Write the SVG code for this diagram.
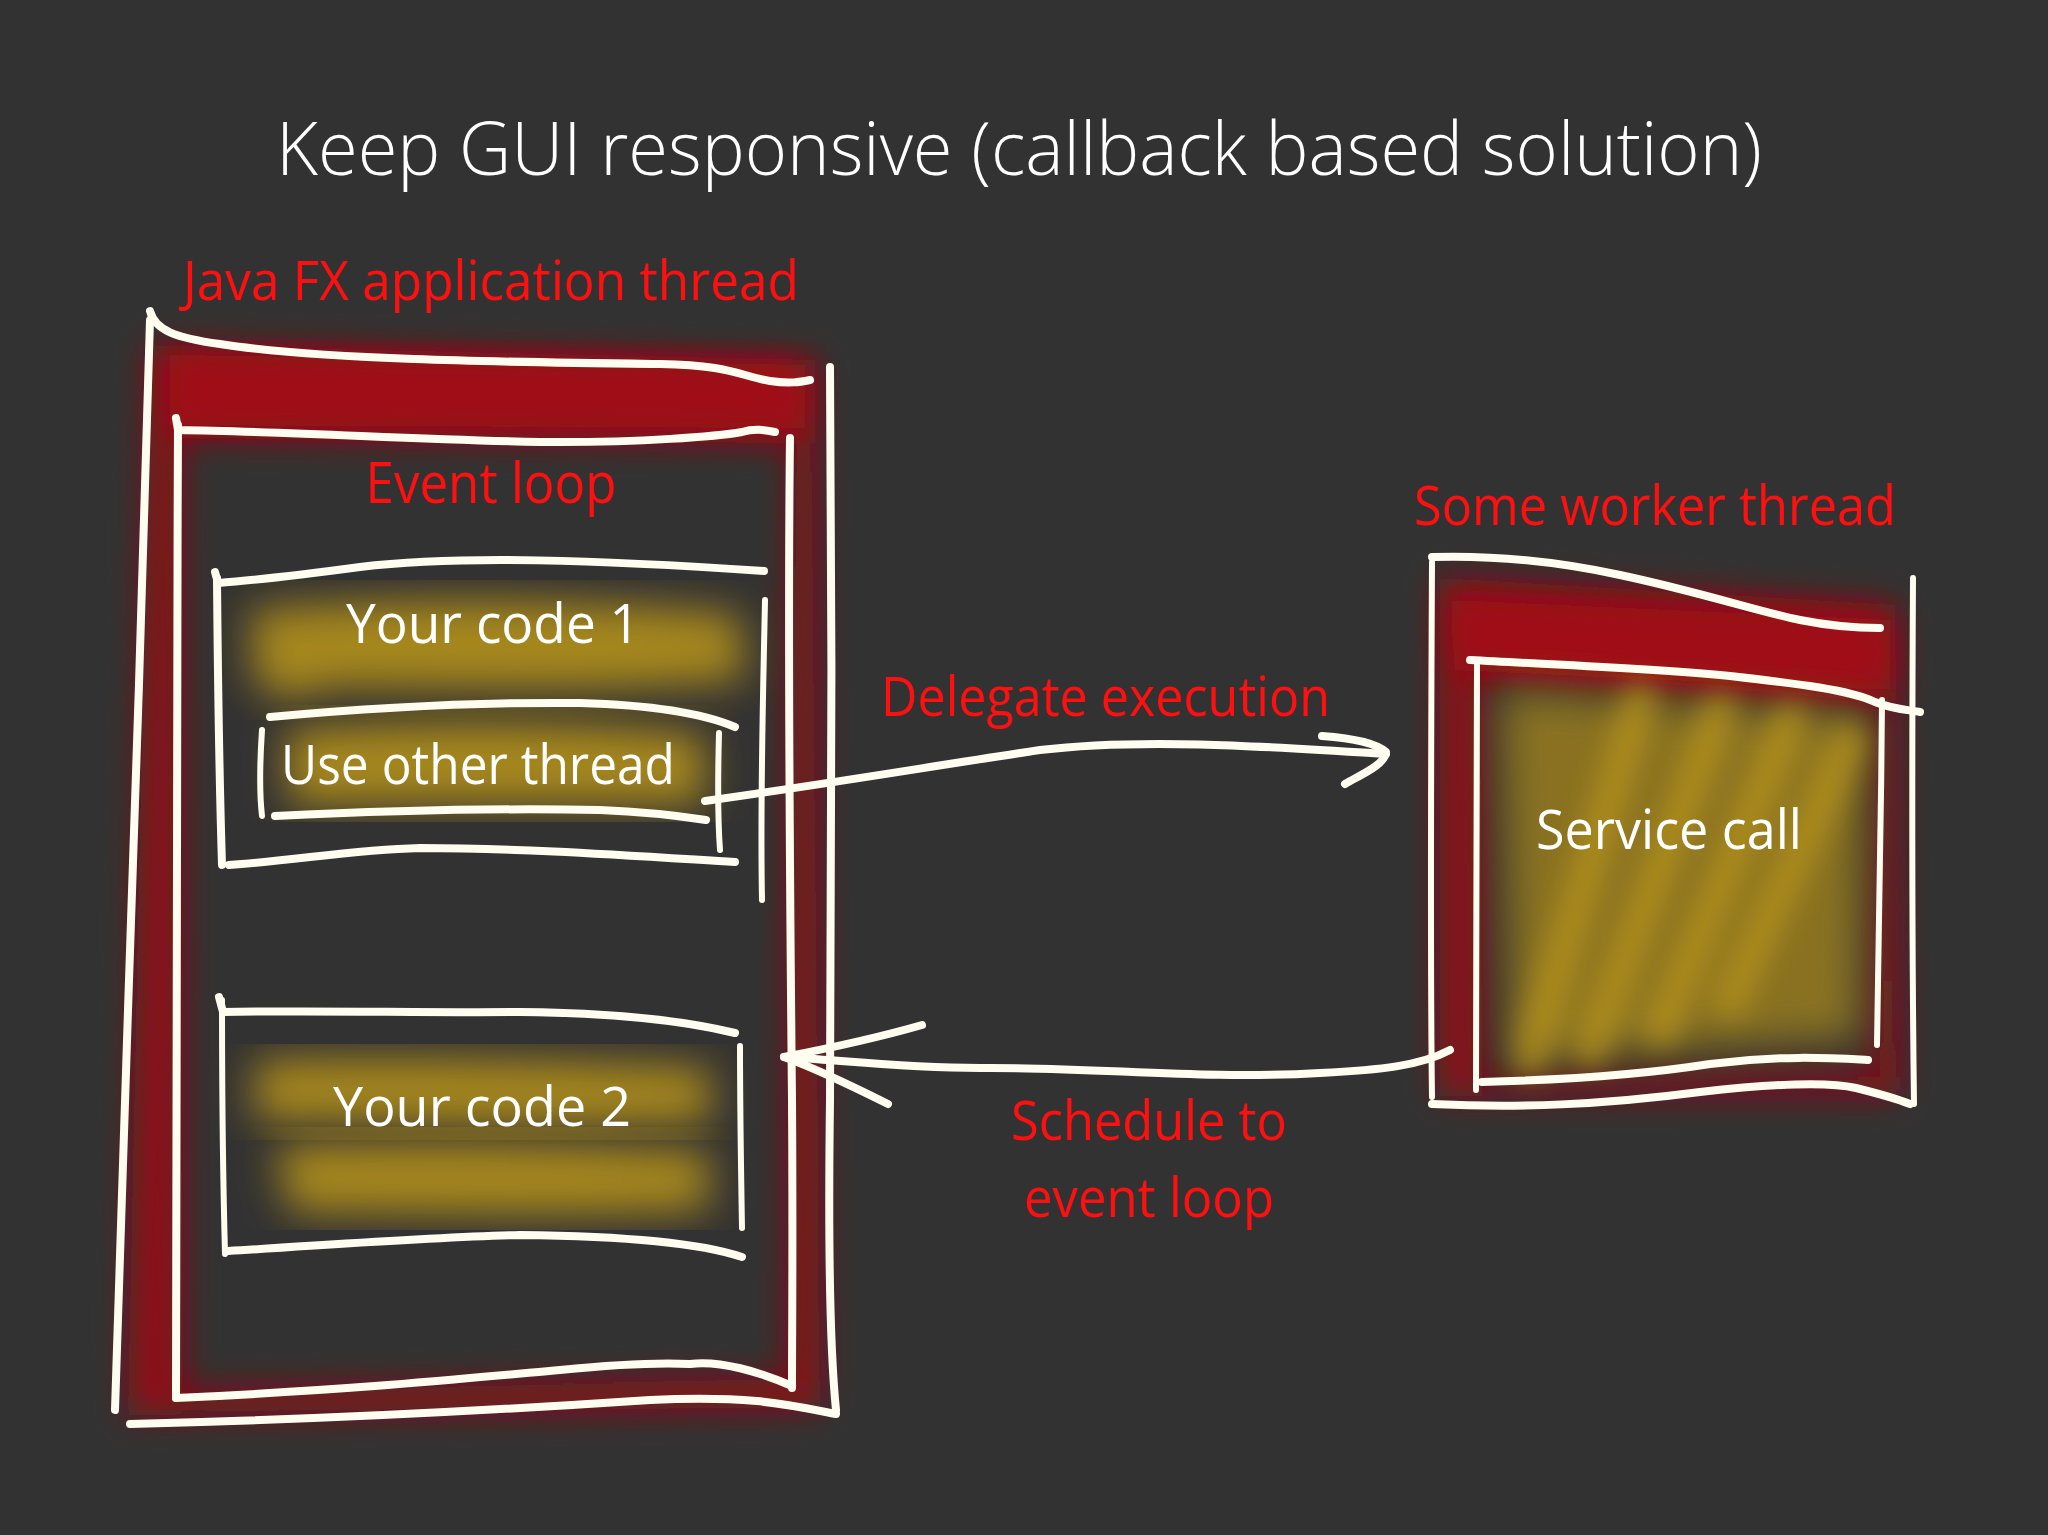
<svg xmlns="http://www.w3.org/2000/svg" width="2048" height="1535" viewBox="0 0 2048 1535">
<defs>
<style>
.bg{fill:#333232}
.ln{fill:none;stroke:#fffdf0;stroke-width:8;stroke-linecap:round;stroke-linejoin:round}
.ln2{fill:none;stroke:#fffdf0;stroke-width:6;stroke-linecap:round;stroke-linejoin:round}
.red{fill:#ff1010;font-family:"Open Sans","Liberation Sans",sans-serif;font-weight:400}
.wht{fill:#ffffff;font-family:"Open Sans","Liberation Sans",sans-serif;font-weight:400}
.band{fill:#900d13;filter:url(#blurR)}
.yel{fill:#a6871c;filter:url(#blurY)}
</style>
<filter id="blurR" x="-20%" y="-20%" width="140%" height="140%"><feGaussianBlur stdDeviation="16"/></filter>
<filter id="blurY" x="-20%" y="-20%" width="140%" height="140%"><feGaussianBlur stdDeviation="20"/></filter>
<filter id="blurS" x="-20%" y="-20%" width="140%" height="140%"><feGaussianBlur stdDeviation="14"/></filter>
</defs>
<rect class="bg" x="0" y="0" width="2048" height="1535"/>

<g id="title">
<text class="wht" x="276" y="175" font-size="74" textLength="1486" lengthAdjust="spacingAndGlyphs" style="font-weight:300">Keep GUI responsive (callback based solution)</text>
</g>

<g id="javafx-thread">
<path class="band" fill-rule="evenodd" d="M150,345 L815,360 L820,1408 L128,1415 Z M180,438 L792,443 L788,1378 L182,1390 Z"/>
<path class="band" d="M170,355 L805,365 L805,428 L170,425 Z" style="fill:#a00f15"/>
<path class="ln" d="M150,311 C155,330 175,338 220,344 C320,360 500,362 660,364 C730,365 740,376 770,381 C790,384 800,382 810,380"/>
<path class="ln" d="M150,320 C145,520 135,800 128,1010 C122,1200 118,1330 115,1410"/>
<path class="ln" d="M830,367 C832,600 832,900 830,1100 C828,1250 830,1350 836,1410"/>
<path class="ln" d="M130,1424 C300,1420 500,1410 650,1400 C750,1395 790,1405 836,1414"/>
<text class="red" x="183" y="300" font-size="54" textLength="616" lengthAdjust="spacingAndGlyphs">Java FX application thread</text>
</g>

<g id="event-loop">
<path class="ln" d="M176,418 L178,430 C300,432 420,440 540,442 C640,443 720,436 742,432 C755,428 765,430 775,432"/>
<path class="ln" d="M178,425 C177,700 175,950 176,1398"/>
<path class="ln" d="M790,438 C788,600 790,900 792,1100 C793,1250 792,1330 792,1388"/>
<path class="ln" d="M176,1398 C350,1390 450,1380 560,1370 C610,1365 650,1362 690,1364 C720,1360 760,1372 792,1386"/>
<text class="red" x="491" y="503" font-size="56" text-anchor="middle" textLength="251" lengthAdjust="spacingAndGlyphs">Event loop</text>
</g>

<g id="your-code-1">
<path class="yel" d="M250,610 C400,595 600,598 740,615 L745,680 C600,695 420,688 330,688 L290,700 L255,685 Z"/>
<path class="yel" d="M285,730 C420,718 600,720 705,735 L705,805 L290,805 Z"/>
<path class="ln" d="M215,572 L218,583 C260,580 300,575 360,567 C460,555 600,560 764,571"/>
<path class="ln" d="M217,578 C218,700 220,800 222,865"/>
<path class="ln2" d="M765,600 C763,700 760,800 762,900"/>
<path class="ln" d="M229,865 C300,860 350,850 420,848 C520,848 620,855 735,862"/>
<text class="wht" x="493" y="643" font-size="54" text-anchor="middle" textLength="294" lengthAdjust="spacingAndGlyphs">Your code 1</text>
</g>

<g id="use-other-thread">
<path class="ln" d="M270,717 C380,707 480,702 580,703 C650,705 700,712 735,727"/>
<path class="ln2" d="M262,730 C260,760 259,790 262,816"/>
<path class="ln2" d="M719,733 C718,770 717,810 720,850"/>
<path class="ln" d="M275,816 C380,811 500,808 600,810 C650,812 680,816 706,820"/>
<text class="wht" x="281" y="784" font-size="54" textLength="394" lengthAdjust="spacingAndGlyphs">Use other thread</text>
</g>

<g id="your-code-2">
<path class="yel" d="M255,1060 C400,1055 600,1060 710,1068 L712,1122 C600,1130 400,1125 255,1120 Z"/>
<path class="yel" d="M275,1145 C420,1140 600,1142 710,1152 L708,1210 C600,1218 400,1214 290,1212 Z"/>
<path class="ln" d="M219,997 L223,1012 C320,1010 420,1013 520,1012 C620,1013 690,1022 735,1033"/>
<path class="ln2" d="M222,1000 C222,1100 223,1180 225,1254"/>
<path class="ln2" d="M740,1046 C740,1110 741,1170 742,1228"/>
<path class="ln" d="M228,1251 C330,1245 430,1237 520,1235 C620,1236 700,1243 742,1257"/>
<text class="wht" x="482" y="1126" font-size="54" text-anchor="middle" textLength="298" lengthAdjust="spacingAndGlyphs">Your code 2</text>
</g>

<g id="worker-thread">
<path class="band" fill-rule="evenodd" d="M1440,578 L1895,605 L1900,1095 L1440,1096 Z M1480,668 L1882,702 L1876,1072 L1482,1082 Z"/>
<path class="band" d="M1450,600 L1890,620 L1890,690 L1455,670 Z" style="fill:#a00f15"/>
<path class="ln" d="M1432,557 C1500,555 1560,562 1620,575 C1700,592 1760,612 1800,620 C1830,626 1860,628 1880,628"/>
<path class="ln2" d="M1432,562 C1431,750 1430,950 1432,1097"/>
<path class="ln2" d="M1913,578 C1912,750 1912,950 1914,1104"/>
<path class="ln" d="M1432,1104 C1520,1108 1600,1105 1700,1092 C1780,1083 1830,1082 1856,1088 C1880,1094 1900,1100 1910,1104"/>
<text class="red" x="1655" y="525" font-size="54" text-anchor="middle" textLength="482" lengthAdjust="spacingAndGlyphs">Some worker thread</text>
</g>

<g id="service-call">
<path class="yel" d="M1500,690 L1865,715 L1860,1040 L1510,1060 Z" opacity="0.75"/>
<g filter="url(#blurS)" stroke="#b8951f" stroke-width="34" stroke-linecap="round" opacity="0.75" fill="none">
<path d="M1530,1060 L1640,700"/>
<path d="M1590,1050 L1720,710"/>
<path d="M1660,1030 L1790,720"/>
<path d="M1730,1000 L1850,740"/>
</g>
<path class="ln" d="M1470,660 C1560,665 1650,668 1730,676 C1800,684 1850,690 1875,702 C1895,710 1910,710 1920,712"/>
<path class="ln2" d="M1477,665 C1477,800 1476,950 1476,1090"/>
<path class="ln2" d="M1882,700 C1881,820 1879,950 1877,1045"/>
<path class="ln" d="M1482,1082 C1560,1080 1640,1075 1710,1064 C1780,1055 1830,1058 1868,1060"/>
<text class="wht" x="1669" y="849" font-size="54" text-anchor="middle" textLength="266" lengthAdjust="spacingAndGlyphs">Service call</text>
</g>

<g id="connectors">
<g id="delegate-execution">
<path class="ln" d="M705,801 C820,785 940,765 1040,750 C1140,738 1260,746 1386,754"/>
<path class="ln" d="M1322,736 C1350,738 1375,742 1386,752 C1385,765 1360,775 1345,784"/>
<text class="red" x="881" y="716" font-size="54" textLength="449" lengthAdjust="spacingAndGlyphs">Delegate execution</text>
</g>
<g id="schedule-to-event-loop">
<path class="ln" d="M1450,1050 C1420,1066 1380,1070 1320,1073 C1200,1080 1100,1067 980,1068 C900,1068 840,1060 784,1057"/>
<path class="ln" d="M922,1025 C870,1040 820,1050 784,1057 C820,1070 860,1090 888,1104"/>
<text class="red" x="1149" y="1140" font-size="54" text-anchor="middle" textLength="276" lengthAdjust="spacingAndGlyphs">Schedule to</text>
<text class="red" x="1149" y="1217" font-size="54" text-anchor="middle" textLength="250" lengthAdjust="spacingAndGlyphs">event loop</text>
</g>
</g>
</svg>
